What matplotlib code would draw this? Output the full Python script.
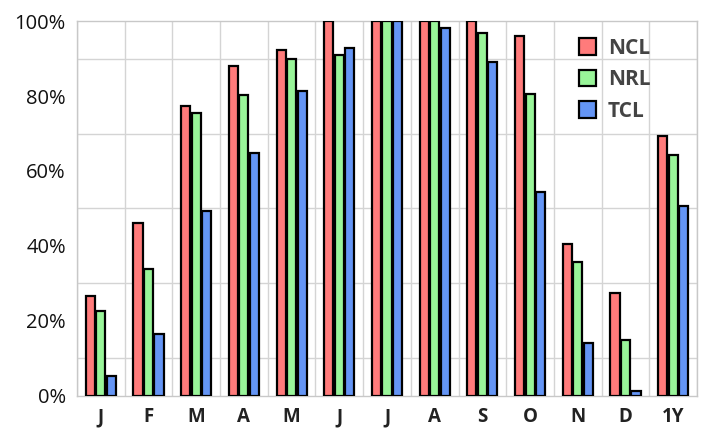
import matplotlib
matplotlib.use("Agg")
import matplotlib.pyplot as plt
import numpy as np

categories = ["J", "F", "M", "A", "M", "J", "J", "A", "S", "O", "N", "D", "1Y"]
ncl = [26.7, 46.0, 77.3, 88.0, 92.4, 100, 100, 100, 100, 96.0, 40.6, 27.4, 69.3]
nrl = [22.7, 33.8, 75.4, 80.4, 89.9, 90.9, 100, 100, 96.9, 80.5, 35.6, 14.8, 64.4]
tcl = [5.4, 16.6, 49.2, 64.8, 81.3, 92.9, 100, 98.1, 89.1, 54.5, 14.0, 1.4, 50.7]
series = [("NCL", ncl, "#FF7B7B"), ("NRL", nrl, "#99F599"), ("TCL", tcl, "#6495F5")]

fig = plt.figure(figsize=(7.03, 4.29), dpi=100)
ax = fig.add_axes([0.1095, 0.077, 0.882, 0.874])

x = np.arange(len(categories))
spacing = 0.22
width = 0.19
for i, (name, vals, col) in enumerate(series):
    ax.bar(x + (i - 1) * spacing, vals, width, color=col, edgecolor="black",
           linewidth=1.6, label=name, zorder=3)

ax.set_xlim(-0.5, len(categories) - 0.5)
ax.set_ylim(0, 100)
ax.set_xticks(x)
ax.set_xticklabels(categories, fontfamily="Open Sans", fontweight="bold", fontsize=13.5, color="#222222")
ax.set_xticks(np.arange(-0.5, len(categories), 1), minor=True)
ax.set_yticks(np.arange(0, 101, 20))
ax.set_yticklabels([f"{v}%" for v in range(0, 101, 20)], fontfamily="Open Sans", fontsize=14.5, color="#111111")
ax.set_yticks(np.arange(0, 101, 10), minor=True)
ax.tick_params(which="both", length=0)
ax.tick_params(axis="x", pad=8)
ax.tick_params(axis="y", pad=8)
ax.grid(True, which="minor", color="#D4D4D4", linewidth=1.0, zorder=0)
ax.grid(False, which="major")
for s in ax.spines.values():
    s.set_color("#C8C8C8")
    s.set_linewidth(1.0)

leg = ax.legend(loc="upper right", bbox_to_anchor=(0.955, 1.005), frameon=False,
                prop={"family": "Open Sans", "weight": "bold", "size": 15},
                handlelength=0.85, handleheight=0.85, labelspacing=0.5, handletextpad=0.55)
for t in leg.get_texts():
    t.set_color("#444444")

fig.savefig("out.png", dpi=100)
